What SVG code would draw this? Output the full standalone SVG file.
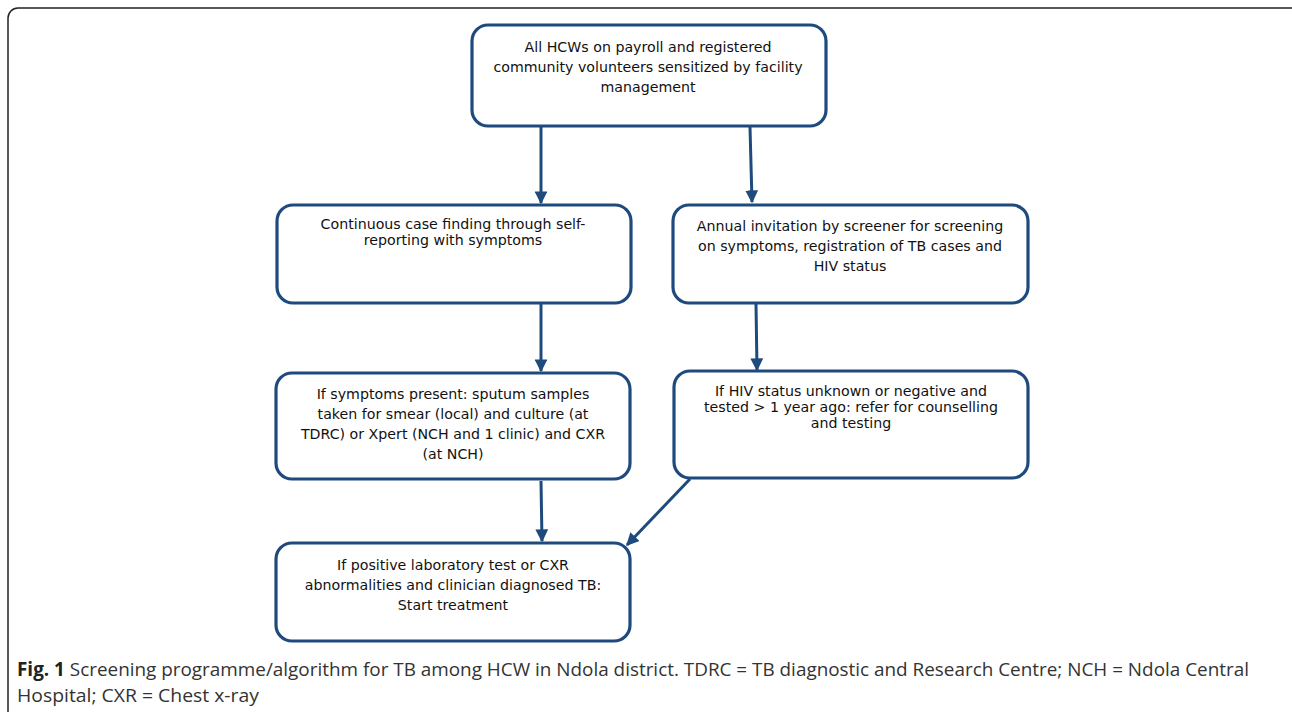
<svg xmlns="http://www.w3.org/2000/svg" width="1292" height="712" viewBox="0 0 1292 712">
<defs>
<style>
.box{fill:#fff;stroke:#1F4A7E;stroke-width:3.2}
.t{font-family:"DejaVu Sans",Verdana,sans-serif;font-size:14.2px;fill:#111;text-anchor:middle}
.c{stroke:#1F4A7E;stroke-width:3;fill:none}
.cap{font-family:"Open Sans","Liberation Sans",sans-serif;font-size:19px;fill:#333}
</style>
<marker id="ah" viewBox="0 0 10 10" refX="9" refY="5" markerWidth="4.3" markerHeight="4.3" orient="auto" markerUnits="strokeWidth">
<path d="M0,0 L10,5 L0,10 z" fill="#1F4A7E"/>
</marker>
</defs>
<rect width="1292" height="712" fill="#fff"/>
<rect x="8" y="8" width="1300" height="720" rx="10" fill="none" stroke="#222" stroke-width="1.5"/>
<g id="connectors">
<line class="c" x1="541" y1="127" x2="541" y2="203" marker-end="url(#ah)"/>
<line class="c" x1="750" y1="127" x2="752" y2="202" marker-end="url(#ah)"/>
<line class="c" x1="541" y1="304" x2="541" y2="371" marker-end="url(#ah)"/>
<line class="c" x1="756" y1="304" x2="757" y2="370" marker-end="url(#ah)"/>
<line class="c" x1="541" y1="481" x2="542" y2="541" marker-end="url(#ah)"/>
<line class="c" x1="690" y1="479" x2="627" y2="545" marker-end="url(#ah)"/>
</g>
<g id="n1">
<rect class="box" x="472" y="25" width="354" height="101" rx="16"/>
<text class="t" x="648" y="52">All HCWs on payroll and registered</text>
<text class="t" x="648" y="72">community volunteers sensitized by facility</text>
<text class="t" x="648" y="92">management</text>
</g>
<g id="n2">
<rect class="box" x="277" y="205" width="354" height="98" rx="16"/>
<text class="t" x="453" y="229">Continuous case finding through self-</text>
<text class="t" x="453" y="245">reporting with symptoms</text>
</g>
<g id="n3">
<rect class="box" x="673" y="205" width="355" height="98" rx="16"/>
<text class="t" x="850" y="231">Annual invitation by screener for screening</text>
<text class="t" x="850" y="251">on symptoms, registration of TB cases and</text>
<text class="t" x="850" y="271">HIV status</text>
</g>
<g id="n4">
<rect class="box" x="276" y="373" width="354" height="106" rx="16"/>
<text class="t" x="453" y="399">If symptoms present: sputum samples</text>
<text class="t" x="453" y="419">taken for smear (local) and culture (at</text>
<text class="t" x="453" y="439">TDRC) or Xpert (NCH and 1 clinic) and CXR</text>
<text class="t" x="453" y="459">(at NCH)</text>
</g>
<g id="n5">
<rect class="box" x="674" y="371" width="354" height="107" rx="16"/>
<text class="t" x="851" y="396">If HIV status unknown or negative and</text>
<text class="t" x="851" y="412">tested &gt; 1 year ago: refer for counselling</text>
<text class="t" x="851" y="428">and testing</text>
</g>
<g id="n6">
<rect class="box" x="276" y="543" width="354" height="98" rx="16"/>
<text class="t" x="453" y="570">If positive laboratory test or CXR</text>
<text class="t" x="453" y="590">abnormalities and clinician diagnosed TB:</text>
<text class="t" x="453" y="610">Start treatment</text>
</g>
<g id="caption">
<text class="cap" x="17" y="676" textLength="1232" lengthAdjust="spacingAndGlyphs"><tspan font-weight="bold" fill="#222">Fig. 1</tspan> Screening programme/algorithm for TB among HCW in Ndola district. TDRC = TB diagnostic and Research Centre; NCH = Ndola Central</text>
<text class="cap" x="17" y="702" textLength="242" lengthAdjust="spacingAndGlyphs">Hospital; CXR = Chest x-ray</text>
</g>
</svg>
